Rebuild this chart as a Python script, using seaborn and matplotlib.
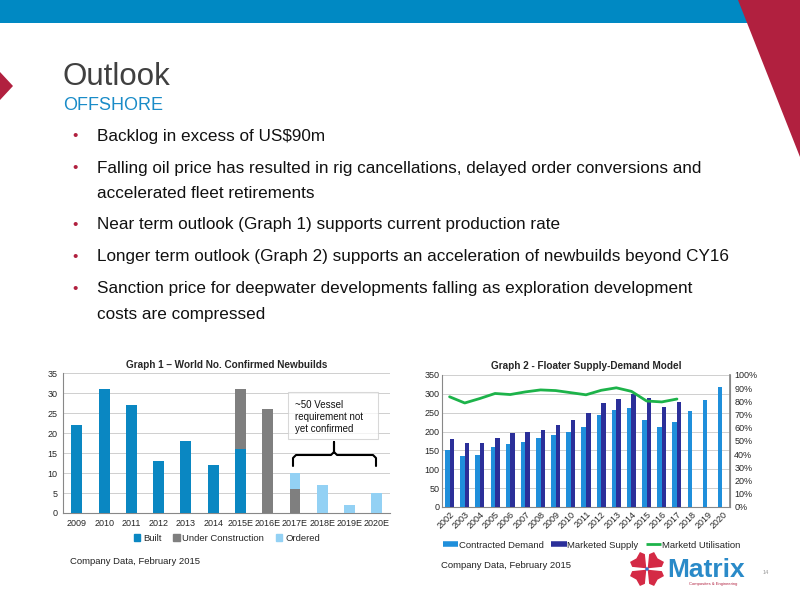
import numpy as np
import pandas as pd
import seaborn as sns
import matplotlib.pyplot as plt
from matplotlib.patches import Polygon, Rectangle, Circle
from matplotlib.lines import Line2D
from matplotlib.ticker import PercentFormatter

# Graph 1 data
years1 = ['2009', '2010', '2011', '2012', '2013', '2014', '2015E', '2016E',
          '2017E', '2018E', '2019E', '2020E']
built = [22, 31, 27, 13, 18, 12, 16, 0, 0, 0, 0, 0]
under_construction = [0, 0, 0, 0, 0, 0, 15, 26, 6, 0, 0, 0]
ordered = [0, 0, 0, 0, 0, 0, 0, 0, 4, 7, 2, 5]

# Graph 2 data
years2 = [str(y) for y in range(2002, 2021)]
contracted_demand = [150, 134, 138, 158, 166, 173, 182, 192, 200, 211, 244, 258,
                     262, 232, 211, 226, 254, 284, 317]
marketed_supply = [180, 170, 169, 184, 196, 199, 205, 218, 230, 249, 276, 286,
                   300, 290, 265, 279, np.nan, np.nan, np.nan]
utilisation = [83.5, 78.8, 82.2, 86.0, 85.2, 87.2, 88.7, 88.2, 86.6, 85.0, 88.4,
               90.3, 87.6, 80.3, 79.6, 81.8]

bullets = [
    ['Backlog in excess of US$90m'],
    ['Falling oil price has resulted in rig cancellations, delayed order conversions and',
     'accelerated fleet retirements'],
    ['Near term outlook (Graph 1) supports current production rate'],
    ['Longer term outlook (Graph 2) supports an acceleration of newbuilds beyond CY16'],
    ['Sanction price for deepwater developments falling as exploration development',
     'costs are compressed'],
]

sns.set_theme(style='white')
plt.rcParams['font.family'] = ['Liberation Sans', 'DejaVu Sans']

RED = '#b1203f'
BLUE = '#0089c3'
c_built, c_uc, c_ord = '#0a87c2', '#7f7f7f', '#93d1f4'
c_dem, c_sup, c_util = '#1f8fdb', '#2b2f99', '#1db34a'
GRID = '#cfcfcf'

fig = plt.figure(figsize=(8, 6), dpi=100)

# slide background in pixel coordinates
bg = fig.add_axes([0, 0, 1, 1])
bg.set_xlim(0, 800)
bg.set_ylim(600, 0)
bg.axis('off')
bg.add_patch(Rectangle((0, 0), 750, 23, color=BLUE, lw=0))
bg.add_patch(Polygon([(738, 0), (800, 0), (800, 157)], color=RED, lw=0))
bg.add_patch(Polygon([(0, 72), (13, 86), (0, 100)], color=RED, lw=0))
bg.text(63, 77, 'Outlook', fontsize=22.5, color='#404040', va='center')
bg.text(63, 106, 'OFFSHORE', fontsize=13, color='#1a8cc8', va='center')

y = 136
for item in bullets:
    bg.text(72, y, '\u2022', fontsize=11, color=RED, va='center')
    for j, line in enumerate(item):
        bg.text(97, y, line, fontsize=12.3, color='#111111', va='center')
        y += 25 if j < len(item) - 1 else 0
    y += 32

bg.text(70, 562, 'Company Data, February 2015', fontsize=6.8, color='#222222', va='center')
bg.text(441, 566, 'Company Data, February 2015', fontsize=6.8, color='#222222', va='center')
bg.text(763, 572, '14', fontsize=4, color='#999999', va='center')

# logo
cx, cy = 647, 569
for ang in [45, 135, 225, 315]:
    t = np.deg2rad(ang)
    u = np.array([np.cos(t), np.sin(t)])
    v = np.array([-np.sin(t), np.cos(t)])
    local = [(1, 0), (12, -9), (17, -7), (15, 0), (17, 7), (12, 9)]
    pts = [(cx + a * u[0] + b * v[0], cy + a * u[1] + b * v[1]) for a, b in local]
    bg.add_patch(Polygon(pts, color='#d42a45', lw=0))
bg.add_patch(Circle((cx, cy), 1.8, color='#3a6fc4', lw=0))
bg.text(667, 577, 'Matrix', fontsize=19, fontweight='bold', color='#2a8ac8', va='baseline')
bg.text(689, 584, 'Composites & Engineering', fontsize=3, color=RED, va='center')

# Graph 1 - stacked bars drawn as overlaid cumulative totals
df1 = pd.DataFrame({'year': years1, 'built': built,
                    'uc': under_construction, 'ordered': ordered})
df1['t2'] = df1['built'] + df1['uc']
df1['t3'] = df1['t2'] + df1['ordered']

ax1 = fig.add_axes([0.079, 0.145, 0.409, 0.233])
for col, c in [('t3', c_ord), ('t2', c_uc), ('built', c_built)]:
    sns.barplot(data=df1, x='year', y=col, color=c, width=0.4, saturation=1,
                linewidth=0, ax=ax1, zorder=3)
ax1.set_ylim(0, 35)
ax1.set_yticks(range(0, 36, 5))
ax1.set_xlim(-0.5, 11.5)
ax1.yaxis.grid(True, color=GRID, lw=0.7, zorder=0)
ax1.set_axisbelow(True)
ax1.set_xlabel('')
ax1.set_ylabel('')
for s in ['top', 'right']:
    ax1.spines[s].set_visible(False)
for s in ['left', 'bottom']:
    ax1.spines[s].set_color('#888888')
    ax1.spines[s].set_linewidth(0.8)
ax1.tick_params(labelsize=6.5, length=0, pad=4)
ax1.set_title('Graph 1 \u2013 World No. Confirmed Newbuilds', fontsize=7.2,
              fontweight='bold', pad=4)
h1 = [Rectangle((0, 0), 1, 1, color=c) for c in [c_built, c_uc, c_ord]]
ax1.legend(h1, ['Built', 'Under Construction', 'Ordered'], loc='upper center',
           bbox_to_anchor=(0.5, -0.09), ncol=3, frameon=False, fontsize=6.8,
           handlelength=0.7, handleheight=0.7, handletextpad=0.3, columnspacing=1.2)

# Graph 2 - grouped bars plus utilisation line
df2 = pd.DataFrame({'year': years2, 'Contracted Demand': contracted_demand,
                    'Marketed Supply': marketed_supply})
long2 = df2.melt(id_vars='year', var_name='series', value_name='value')

ax2 = fig.add_axes([0.5525, 0.155, 0.36, 0.22])
sns.barplot(data=long2, x='year', y='value', hue='series', palette=[c_dem, c_sup],
            width=0.6, saturation=1, linewidth=0, ax=ax2, legend=False, zorder=3)
ax2.set_ylim(0, 350)
ax2.set_yticks(range(0, 351, 50))
ax2.yaxis.grid(True, color=GRID, lw=0.7, zorder=0)
ax2.set_axisbelow(True)
ax2.set_xlabel('')
ax2.set_ylabel('')
ax2.tick_params(labelsize=6.5, length=0, pad=2)
ax2.tick_params(axis='x', rotation=45)
for lab in ax2.get_xticklabels():
    lab.set_ha('right')
    lab.set_rotation_mode('anchor')
ax2.spines['top'].set_visible(False)
for s in ['left', 'bottom', 'right']:
    ax2.spines[s].set_color('#888888')
    ax2.spines[s].set_linewidth(0.8)

ax2r = ax2.twinx()
sns.lineplot(x=np.arange(len(utilisation)), y=utilisation, color=c_util, lw=2, ax=ax2r)
ax2r.set_ylim(0, 100)
ax2r.set_yticks(range(0, 101, 10))
ax2r.yaxis.set_major_formatter(PercentFormatter(decimals=0))
ax2r.tick_params(labelsize=6.5, length=0, pad=3)
ax2r.spines['top'].set_visible(False)
ax2r.spines['right'].set_color('#888888')
ax2r.spines['left'].set_visible(False)
ax2r.spines['bottom'].set_visible(False)
ax2.set_xlim(-0.5, 18.5)
ax2.set_title('Graph 2 - Floater Supply-Demand Model', fontsize=7.2,
              fontweight='bold', pad=4)
h2 = [Line2D([], [], color=c_dem, lw=4, solid_capstyle='butt'),
      Line2D([], [], color=c_sup, lw=4, solid_capstyle='butt'),
      Line2D([], [], color=c_util, lw=2, solid_capstyle='butt')]
ax2.legend(h2, ['Contracted Demand', 'Marketed Supply', 'Marketd Utilisation'],
           loc='upper center', bbox_to_anchor=(0.52, -0.19), ncol=3, frameon=False,
           fontsize=6.8, handlelength=1.6, handletextpad=0.1, columnspacing=0.8)

# overlay for the annotation box and brace
ov = fig.add_axes([0, 0, 1, 1], facecolor='none')
ov.set_xlim(0, 800)
ov.set_ylim(600, 0)
ov.axis('off')
ov.add_patch(Rectangle((288, 392), 90, 47, facecolor='white', alpha=0.75,
                       edgecolor='#cccccc', lw=0.8))
ov.text(295, 400, '~50 Vessel\nrequirement not\nyet confirmed', fontsize=7,
        va='top', ha='left', linespacing=1.25, color='#111111')
ov.plot([293, 293, 296, 331, 334, 334, 334, 337, 373, 376, 376],
        [466, 458, 455, 455, 452, 442, 452, 455, 455, 458, 466],
        color='black', lw=1.5, solid_joinstyle='round')

fig.savefig('out.png', dpi=100)
